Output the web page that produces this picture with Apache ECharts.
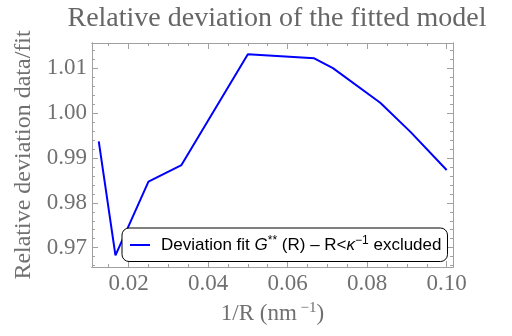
<!DOCTYPE html>
<html>
<head>
<meta charset="utf-8">
<script src="https://cdn.jsdelivr.net/npm/echarts@6/dist/echarts.min.js"></script>
<style>
  html, body { margin: 0; padding: 0; background: #fff; }
  #chart { width: 512px; height: 336px; }
</style>
</head>
<body>
<div id="chart"></div>
<script>
// 1/R values (nm^-1) and relative deviation data/fit
const invR = [0.0125, 0.0167, 0.025, 0.0333, 0.05, 0.0667, 0.0714, 0.0833, 0.0909, 0.1]
const deviation = [0.9937, 0.9683, 0.9847, 0.9884, 1.0131, 1.0122, 1.0100, 1.0023, 0.9958, 0.9873]

const xMajor = [0.02, 0.04, 0.06, 0.08, 0.10]
const xMinor = [0.015, 0.025, 0.03, 0.035, 0.045, 0.05, 0.055, 0.065, 0.07, 0.075, 0.085, 0.09, 0.095]
const yMajor = [0.97, 0.98, 0.99, 1.00, 1.01]
const yMinor = [0.966, 0.968, 0.972, 0.974, 0.976, 0.978, 0.982, 0.984, 0.986, 0.988,
    0.992, 0.994, 0.996, 0.998, 1.002, 1.004, 1.006, 1.008, 1.012, 1.014]

const xRange = [0.0108, 0.1016]
const yRange = [0.9657, 1.0156]

const frameColor = '#a0a0a0'
const labelColor = '#707070'
const serif = '"Liberation Serif", "DejaVu Serif", serif'
const sans = '"Liberation Sans", Arial, sans-serif'

function frameAxis(position, range, ticks, len, withLabel) {
    return {
        type: 'value',
        position: position,
        min: range[0],
        max: range[1],
        axisLine: { show: true, lineStyle: { color: frameColor, width: 1 } },
        axisTick: {
            show: true,
            inside: true,
            length: len,
            customValues: ticks,
            lineStyle: { color: frameColor, width: 1 },
        },
        axisLabel: {
            show: withLabel,
            customValues: ticks,
            color: labelColor,
            fontFamily: serif,
            fontSize: 23,
            margin: 5,
            formatter: v => v.toFixed(2),
        },
        splitLine: { show: false },
    }
}

const myChart = echarts.init(document.getElementById('chart'))

const xMain = frameAxis('bottom', xRange, xMajor, 6, true)
xMain.name = '{n|1/R (nm}{s| −1}{n|)}'
xMain.nameLocation = 'middle'
xMain.nameGap = 34
xMain.nameTextStyle = {
    rich: {
        n: { fontFamily: serif, fontSize: 23, color: labelColor },
        s: { fontFamily: serif, fontSize: 15, color: labelColor, padding: [0, 0, 10, 0] },
    },
}

const yMain = frameAxis('left', yRange, yMajor, 6, true)
yMain.name = 'Relative deviation data/fit'
yMain.nameLocation = 'middle'
yMain.nameGap = 54
yMain.nameTextStyle = { fontFamily: serif, fontSize: 24, color: labelColor }

const option = {
    animation: false,
    title: {
        text: 'Relative deviation of the fitted model',
        left: 272,
        textAlign: 'center',
        top: 0,
        textStyle: { fontFamily: serif, fontSize: 28, fontWeight: 'normal', color: '#666666' },
    },
    grid: { left: 92, top: 43, right: 59, bottom: 69 },
    xAxis: [
        xMain,
        frameAxis('bottom', xRange, xMinor, 3, false),
        frameAxis('top', xRange, xMajor, 6, false),
        frameAxis('top', xRange, xMinor, 3, false),
    ],
    yAxis: [
        yMain,
        frameAxis('left', yRange, yMinor, 3, false),
        frameAxis('right', yRange, yMajor, 6, false),
        frameAxis('right', yRange, yMinor, 3, false),
    ],
    legend: {
        left: 122,
        top: 228,
        padding: [7, 6, 8, 8],
        icon: 'rect',
        itemWidth: 20,
        itemHeight: 2,
        itemGap: 0,
        backgroundColor: '#fff',
        borderColor: '#000',
        borderWidth: 1,
        borderRadius: 7,
        formatter: () => '{f|Deviation fit }{i|G}{s|**}{n| (R) – R<}{i|κ}{s|−1}{n| excluded}',
        textStyle: {
            rich: {
                f: { fontFamily: sans, fontSize: 17, color: '#000', padding: [0, 0, 0, 6] },
                n: { fontFamily: sans, fontSize: 17, color: '#000' },
                i: { fontFamily: sans, fontSize: 17, fontStyle: 'italic', color: '#000' },
                s: { fontFamily: sans, fontSize: 12, color: '#000', padding: [0, 0, 8, 0] },
            },
        },
    },
    series: [
        {
            name: 'Deviation',
            type: 'line',
            symbol: 'none',
            data: invR.map((x, i) => [x, deviation[i]]),
            lineStyle: { color: '#0000ff', width: 2 },
            itemStyle: { color: '#0000ff' },
        },
    ],
}

myChart.setOption(option)
</script>
</body>
</html>
